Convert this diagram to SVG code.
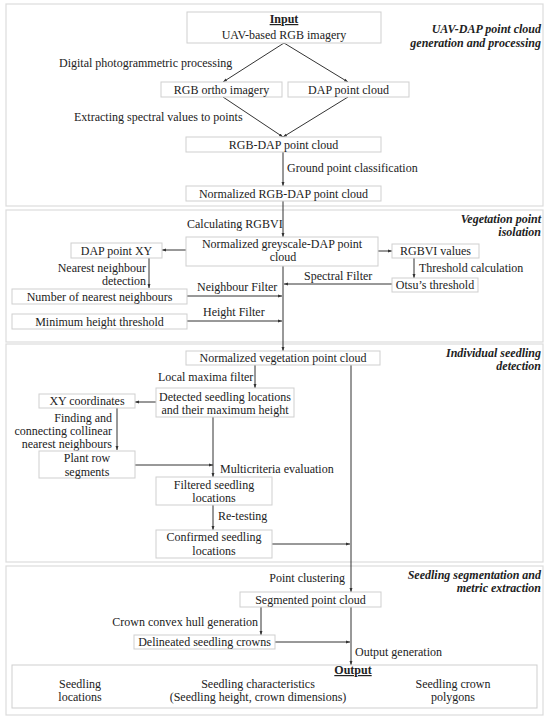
<svg xmlns="http://www.w3.org/2000/svg" width="550" height="721" viewBox="0 0 550 721">
<style>
text{font-family:"Liberation Serif","Times New Roman",serif;font-size:12px;fill:#222}
.c{text-anchor:middle}
.r{text-anchor:end}
.t{font-weight:bold;font-style:italic;text-anchor:end}
.u{font-weight:bold;text-decoration:underline;text-anchor:middle}
.panel{fill:#fff;stroke:#dcdcdc;stroke-width:1.2}
.box{fill:#fff;stroke:#cfcfcf;stroke-width:1}
.ln{fill:none;stroke:#333;stroke-width:1}
</style>
<defs>
<marker id="a" viewBox="0 0 6 6" refX="6" refY="3" markerWidth="4" markerHeight="4" orient="auto" markerUnits="userSpaceOnUse"><path d="M0,0.8 L6,3 L0,5.2 Z" fill="#333"/></marker>
</defs>
<rect width="550" height="721" fill="#fff"/>
<g id="panels">
<rect class="panel" x="6" y="4" width="537" height="202"/>
<rect class="panel" x="6" y="210" width="537" height="132"/>
<rect class="panel" x="6" y="344" width="537" height="218"/>
<rect class="panel" x="6" y="566" width="537" height="149"/>
<text class="t" x="541" y="33">UAV-DAP point cloud</text>
<text class="t" x="541" y="47">generation and processing</text>
<text class="t" x="541" y="223">Vegetation point</text>
<text class="t" x="541" y="236">isolation</text>
<text class="t" x="541" y="357">Individual seedling</text>
<text class="t" x="541" y="370">detection</text>
<text class="t" x="541" y="579">Seedling segmentation and</text>
<text class="t" x="541" y="592">metric extraction</text>
</g>
<g id="connectors">
<path class="ln" d="M284,43 L223,82" marker-end="url(#a)"/>
<path class="ln" d="M284,43 L348,82" marker-end="url(#a)"/>
<path class="ln" d="M223,97 L283,137" marker-end="url(#a)"/>
<path class="ln" d="M348,97 L283,137" marker-end="url(#a)"/>
<path class="ln" d="M283,152 L283,186" marker-end="url(#a)"/>
<path class="ln" d="M283,201 L283,237" marker-end="url(#a)"/>
<path class="ln" d="M186,250 L162,250" marker-end="url(#a)"/>
<path class="ln" d="M149,258 L149,288" marker-end="url(#a)"/>
<path class="ln" d="M378,251 L392,251" marker-end="url(#a)"/>
<path class="ln" d="M414,258 L414,278" marker-end="url(#a)"/>
<path class="ln" d="M392,284 L284,284" marker-end="url(#a)"/>
<path class="ln" d="M187,296 L282,296" marker-end="url(#a)"/>
<path class="ln" d="M187,321 L282,321" marker-end="url(#a)"/>
<path class="ln" d="M283,266 L283,351" marker-end="url(#a)"/>
<path class="ln" d="M255,365 L255,388" marker-end="url(#a)"/>
<path class="ln" d="M156,402 L135,402" marker-end="url(#a)"/>
<path class="ln" d="M117,408 L117,450" marker-end="url(#a)"/>
<path class="ln" d="M135,465 L213,465" marker-end="url(#a)"/>
<path class="ln" d="M213,417 L213,477" marker-end="url(#a)"/>
<path class="ln" d="M213,505 L213,530" marker-end="url(#a)"/>
<path class="ln" d="M272,544 L350,544" marker-end="url(#a)"/>
<path class="ln" d="M351,365 L351,592" marker-end="url(#a)"/>
<path class="ln" d="M261,607 L261,635" marker-end="url(#a)"/>
<path class="ln" d="M275,642 L350,642" marker-end="url(#a)"/>
<path class="ln" d="M351,607 L351,665" marker-end="url(#a)"/>
<text x="59" y="67">Digital photogrammetric processing</text>
<text x="74" y="121">Extracting spectral values to points</text>
<text x="287" y="172">Ground point classification</text>
<text x="187" y="228">Calculating RGBVI</text>
<text class="r" x="146" y="272">Nearest neighbour</text>
<text class="r" x="146" y="285">detection</text>
<text x="197" y="291">Neighbour Filter</text>
<text x="203" y="316">Height Filter</text>
<text x="419" y="272">Threshold calculation</text>
<text x="304" y="280">Spectral Filter</text>
<text x="158" y="381">Local maxima filter</text>
<text class="r" x="112" y="422">Finding and</text>
<text class="r" x="112" y="435">connecting collinear</text>
<text class="r" x="112" y="448">nearest neighbours</text>
<text x="220" y="473">Multicriteria evaluation</text>
<text x="218" y="520">Re-testing</text>
<text class="r" x="345" y="582">Point clustering</text>
<text class="r" x="258" y="626">Crown convex hull generation</text>
<text x="355" y="656">Output generation</text>
</g>
<g id="n-input"><rect class="box" x="187" y="12" width="194" height="31"/><text class="u" x="284" y="23">Input</text><text class="c" x="284" y="39">UAV-based RGB imagery</text></g>
<g id="n-ortho"><rect class="box" x="161" y="82" width="121" height="15"/><text class="c" x="221.5" y="93.5">RGB ortho imagery</text></g>
<g id="n-dap"><rect class="box" x="288" y="82" width="121" height="15"/><text class="c" x="348.5" y="93.5">DAP point cloud</text></g>
<g id="n-rgbdap"><rect class="box" x="186" y="137" width="195" height="15"/><text class="c" x="283.5" y="148.5">RGB-DAP point cloud</text></g>
<g id="n-normrgb"><rect class="box" x="186" y="186" width="195" height="15"/><text class="c" x="283.5" y="197.5">Normalized RGB-DAP point cloud</text></g>
<g id="n-grey"><rect class="box" x="186" y="237" width="192" height="29"/><text class="c" x="282" y="247.5">Normalized greyscale-DAP point</text><text class="c" x="283" y="260.5">cloud</text></g>
<g id="n-dapxy"><rect class="box" x="71" y="243" width="91" height="15"/><text class="c" x="116.5" y="254.5">DAP point XY</text></g>
<g id="n-numnn"><rect class="box" x="12" y="289" width="175" height="15"/><text class="c" x="99.5" y="300.5">Number of nearest neighbours</text></g>
<g id="n-minh"><rect class="box" x="12" y="314" width="175" height="15"/><text class="c" x="99.5" y="325.5">Minimum height threshold</text></g>
<g id="n-rgbvi"><rect class="box" x="392" y="244" width="87" height="14"/><text class="c" x="435.5" y="255">RGBVI values</text></g>
<g id="n-otsu"><rect class="box" x="392" y="278" width="86" height="14"/><text class="c" x="435" y="289">Otsu’s threshold</text></g>
<g id="n-normveg"><rect class="box" x="186" y="351" width="194" height="14"/><text class="c" x="283" y="362">Normalized vegetation point cloud</text></g>
<g id="n-detected"><rect class="box" x="156" y="388" width="138" height="29"/><text class="c" x="225" y="400.5">Detected seedling locations</text><text class="c" x="225" y="413.5">and their maximum height</text></g>
<g id="n-xy"><rect class="box" x="39" y="394" width="96" height="14"/><text class="c" x="87" y="405">XY coordinates</text></g>
<g id="n-plantrow"><rect class="box" x="39" y="451" width="96" height="27"/><text class="c" x="87" y="462">Plant row</text><text class="c" x="87" y="476">segments</text></g>
<g id="n-filtered"><rect class="box" x="156" y="477" width="116" height="28"/><text class="c" x="214" y="488.5">Filtered seedling</text><text class="c" x="214" y="501.5">locations</text></g>
<g id="n-confirmed"><rect class="box" x="156" y="530" width="116" height="28"/><text class="c" x="214" y="541">Confirmed seedling</text><text class="c" x="214" y="555">locations</text></g>
<g id="n-segmented"><rect class="box" x="240" y="592" width="141" height="15"/><text class="c" x="310.5" y="603.5">Segmented point cloud</text></g>
<g id="n-delineated"><rect class="box" x="134" y="635" width="141" height="14"/><text class="c" x="204.5" y="646">Delineated seedling crowns</text></g>
<g id="n-output"><rect class="box" x="12" y="665" width="525" height="43"/><text class="u" x="353" y="674">Output</text>
<text class="c" x="80" y="687.5">Seedling</text><text class="c" x="80" y="700.5">locations</text>
<text class="c" x="258" y="687.5">Seedling characteristics</text><text class="c" x="258" y="700.5">(Seedling height, crown dimensions)</text>
<text class="c" x="453" y="687.5">Seedling crown</text><text class="c" x="453" y="700.5">polygons</text></g>
</svg>
